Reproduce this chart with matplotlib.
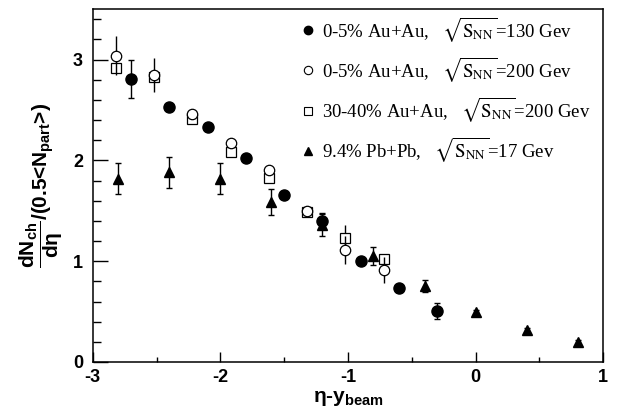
import numpy as np
import matplotlib
matplotlib.use('Agg')
import matplotlib.pyplot as plt
from matplotlib.font_manager import FontProperties
from matplotlib.lines import Line2D
from matplotlib.ticker import MultipleLocator

# 0-5% Au+Au, sqrt(s_NN)=130 GeV (filled circles)
x_au130 = [-2.7, -2.4, -2.1, -1.8, -1.5, -1.2, -0.9, -0.6, -0.3]
y_au130 = [2.81, 2.53, 2.33, 2.02, 1.66, 1.40, 1.00, 0.73, 0.51]
e_au130 = [0.19, 0.03, 0.03, 0.03, 0.03, 0.08, 0.03, 0.03, 0.08]

# 0-5% Au+Au, sqrt(s_NN)=200 GeV (open circles)
x_au200 = [-2.82, -2.52, -2.22, -1.92, -1.62, -1.32, -1.02, -0.72]
y_au200 = [3.04, 2.85, 2.46, 2.17, 1.90, 1.50, 1.11, 0.91]
e_au200 = [0.19, 0.17, 0.03, 0.03, 0.03, 0.04, 0.14, 0.13]

# 30-40% Au+Au, sqrt(s_NN)=200 GeV (open squares)
x_au200p = [-2.82, -2.52, -2.22, -1.92, -1.62, -1.32, -1.02, -0.72]
y_au200p = [2.92, 2.83, 2.41, 2.08, 1.83, 1.49, 1.23, 1.02]
e_au200p = [0.03, 0.03, 0.03, 0.03, 0.03, 0.03, 0.13, 0.03]

# 9.4% Pb+Pb, sqrt(s_NN)=17 GeV (filled triangles)
x_pb17 = [-2.8, -2.4, -2.0, -1.6, -1.2, -0.8, -0.4, 0.0, 0.4, 0.8]
y_pb17 = [1.82, 1.88, 1.82, 1.59, 1.36, 1.05, 0.75, 0.50, 0.32, 0.20]
e_pb17 = [0.15, 0.15, 0.15, 0.13, 0.11, 0.09, 0.06, 0.02, 0.02, 0.02]

labels = [r"0-5% Au+Au,   $\sqrt{\mathrm{S}_{\mathrm{NN}}}$=130 Gev",
          r"0-5% Au+Au,   $\sqrt{\mathrm{S}_{\mathrm{NN}}}$=200 Gev",
          r"30-40% Au+Au,   $\sqrt{\mathrm{S}_{\mathrm{NN}}}$=200 Gev",
          r"9.4% Pb+Pb,   $\sqrt{\mathrm{S}_{\mathrm{NN}}}$=17 Gev"]

plt.rcParams['font.family'] = ['Liberation Sans', 'DejaVu Sans']
plt.rcParams['axes.unicode_minus'] = False
plt.rcParams['mathtext.fontset'] = 'custom'
plt.rcParams['mathtext.rm'] = 'Liberation Sans:bold'
plt.rcParams['mathtext.bf'] = 'Liberation Sans:bold'
plt.rcParams['mathtext.it'] = 'Liberation Sans:bold'
plt.rcParams['mathtext.default'] = 'bf'

fig = plt.figure(figsize=(6.18, 4.18), dpi=100)
ax = fig.add_axes([0.150, 0.134, 0.826, 0.844])

ax.errorbar(x_au130, y_au130, yerr=e_au130, fmt='o', color='black', ms=8,
            elinewidth=1, capsize=2, capthick=1, zorder=4)
ax.errorbar(x_au200, y_au200, yerr=e_au200, fmt='o', color='black', mfc='white',
            mew=0.9, ms=7.5, elinewidth=1, capsize=0, zorder=3)
ax.errorbar(x_au200p, y_au200p, yerr=e_au200p, fmt='s', color='black', mfc='white',
            mew=0.9, ms=6.5, elinewidth=1, capsize=0, zorder=2)
ax.errorbar(x_pb17, y_pb17, yerr=e_pb17, fmt='^', color='black', ms=7.5,
            elinewidth=1, capsize=2, capthick=1, zorder=4)

ax.set_xlim(-3, 1)
ax.set_ylim(0, 3.5)
ax.xaxis.set_major_locator(MultipleLocator(1))
ax.xaxis.set_minor_locator(MultipleLocator(0.5))
ax.yaxis.set_major_locator(MultipleLocator(1))
ax.yaxis.set_minor_locator(MultipleLocator(0.2))
ax.tick_params(axis='y', which='major', direction='in', length=11, width=1, pad=7,
               labelsize=13)
ax.tick_params(axis='y', which='minor', direction='in', length=5.5, width=1)
ax.tick_params(axis='x', which='major', direction='in', length=7, width=1, pad=5,
               labelsize=13)
ax.tick_params(axis='x', which='minor', direction='in', length=3.5, width=1)
for lab in ax.get_xticklabels() + ax.get_yticklabels():
    lab.set_fontweight('bold')
for sp in ax.spines.values():
    sp.set_linewidth(1.1)

ax.set_xlabel(r"$\eta$-y$_{\mathbf{beam}}$", fontsize=15, fontweight='bold', labelpad=2)
ax.set_ylabel(r"$\dfrac{\mathbf{dN_{ch}}}{\mathbf{d}\eta}$/(0.5<N$_{\mathbf{part}}$>)",
              fontsize=15, fontweight='bold', labelpad=6)

handles = [
    Line2D([], [], ls='none', marker='o', color='black', ms=6),
    Line2D([], [], ls='none', marker='o', color='black', mfc='white', mew=0.8, ms=6),
    Line2D([], [], ls='none', marker='s', color='black', mfc='white', mew=0.8, ms=5.5),
    Line2D([], [], ls='none', marker='^', color='black', ms=6),
]
leg_font = FontProperties(family='Liberation Serif', size=13.5, math_fontfamily='stix')
ax.legend(handles, labels, loc='upper right', frameon=False, prop=leg_font,
          handlelength=0.6, handletextpad=0.45, labelspacing=0.6,
          bbox_to_anchor=(1.005, 1.027), borderaxespad=0.4)

fig.savefig("out.png", dpi=100)
